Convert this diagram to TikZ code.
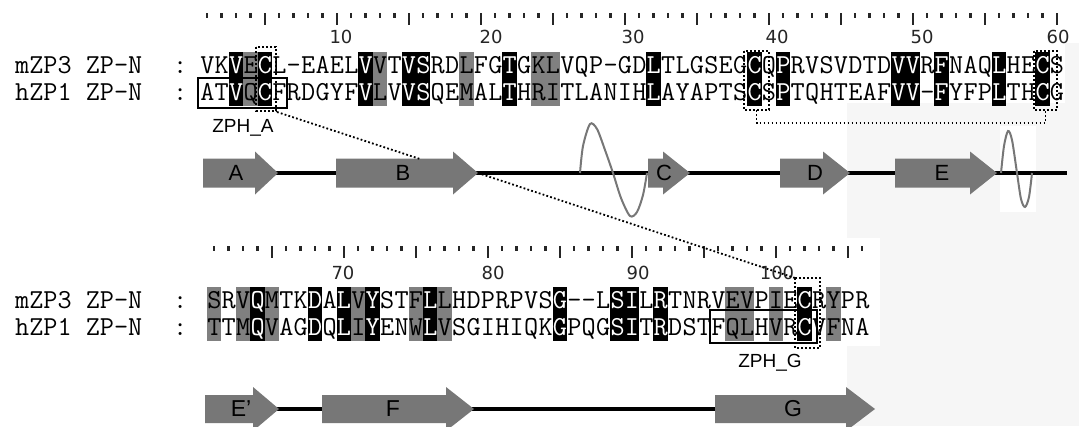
\documentclass[tikz,border=0pt]{standalone}
\usepackage{fontspec}
\setsansfont{Liberation Sans}
\newfontfamily\numfont{DejaVu Sans}
\newcommand\myseqfont{\fontsize{27.43}{30}\selectfont\ttfamily}
\definecolor{arrowgray}{HTML}{777777}
\definecolor{shadegray}{HTML}{808080}
\definecolor{bggray}{HTML}{F6F6F6}
% a residue string: every character in its own 14.4pt cell
\def\seqloop#1{\ifx#1\relax\else\makebox[14.4pt]{#1}\expandafter\seqloop\fi}
\newcommand\seqstr[1]{\seqloop#1\relax}
\begin{document}
\begin{tikzpicture}[x=1pt,y=-1pt,
  seq/.style={font=\myseqfont, inner sep=0pt, anchor=base west},
  seqw/.style={seq, text=white},
  num/.style={font=\numfont\fontsize{18}{20}\selectfont, text=black!85, inner sep=0pt},
  lab/.style={font=\sffamily\fontsize{19}{21}\selectfont, inner sep=0pt},
  alab/.style={font=\sffamily\fontsize{22}{24}\selectfont, inner sep=0pt},
  blab/.style={font=\sffamily\fontsize{23}{25}\selectfont, inner sep=0pt},
  minortick/.style={line width=2.4pt, black!85},
  majortick/.style={line width=1.4pt, black!85},
  dots/.style={line width=1.8pt, dash pattern=on 1.8pt off 2.2pt},
  zbox/.style={line width=2pt},
  backbone/.style={line width=3.2pt},
  helix/.style={line width=2pt, arrowgray},
]
\useasboundingbox (0,0) rectangle (1079,426);
\fill[white] (0,0) rectangle (1079,426);
\fill[bggray] (847,103) rectangle (1079,426);
\fill[bggray] (1065,43) rectangle (1079,103);
\fill[white] (200,238) rectangle (880,346);
\fill[white] (1000,126) rectangle (1036,212);

% ---------- top ruler ----------
\foreach \k in {1,...,60}{
  \pgfmathsetmacro\xx{200+(\k-0.5)*14.4}
  \pgfmathtruncatemacro\r{mod(\k,5)}
  \ifnum\r=0 \draw[majortick] (\xx,13) -- (\xx,25);
  \else \draw[minortick] (\xx,13) -- (\xx,18); \fi
}
\node[num] (n10) at (341,37) {10};
\node[num] (n20) at (491,37) {20};
\node[num] (n30) at (633,37) {30};
\node[num] (n40) at (777,37) {40};
\node[num] (n50) at (922,37) {50};
\node[num] (n60) at (1058,37) {60};

% ---------- top shading ----------
\foreach \c in {3,5,12,15,16,22,32,39,41,49,50,52,56,59}
  \fill[black] ({200+(\c-1)*14.4},52) rectangle ({200+\c*14.4},106);
\foreach \c in {4,13,19,24,25}
  \fill[shadegray] ({200+(\c-1)*14.4},52) rectangle ({200+\c*14.4},106);

% ---------- top sequences ----------
\node[seq] (l1) at (15,73) {mZP3 ZP-N\makebox[45pt][r]{:}};
\node[seq] (l2) at (15,100) {hZP1 ZP-N\makebox[45pt][r]{:}};
\node[seq] (s1) at (200,73) {\seqstr{VKVECL-EAELVVTVSRDLFGTGKLVQP-GDLTLGSEGCQPRVSVDTDVVRFNAQLHECS}};
\node[seq] (s2) at (200,100) {\seqstr{ATVQCFRDGYFVLVVSQEMALTHRITLANIHLAYAPTSCSPTQHTEAFVV-FYFPLTHCG}};
\foreach \c/\a in {3/V,5/C,12/V,15/V,16/S,22/T,32/L,39/C,41/P,49/V,50/V,52/F,56/L,59/C}{
  \node[seqw] (ta\c) at ({200+(\c-1)*14.4},73) {\makebox[14.4pt]{\a}};
  \node[seqw] (tb\c) at ({200+(\c-1)*14.4},100) {\makebox[14.4pt]{\a}};
}

% ---------- top boxes ----------
\draw[zbox] (198,78) rectangle (287,108);
\node[lab] (zpha) at (243,128) {ZPH\_A};
\draw[dots] (256,47) rectangle (276,111);
\draw[dots] (744,51) rectangle (769,110);
\draw[dots] (1034,51) rectangle (1057,110);
\draw[dots] (756.5,110) -- (756.5,123) -- (1045.5,123) -- (1045.5,110);

% ---------- top secondary structure ----------
\draw[backbone] (270,173) -- (1067,173);
\foreach \n/\a/\h/\t/\lx in {A/203/255/278/236, B/336/453/478/403, C/648/663/690/664, D/780/823/850/815, E/895/970/997/942}{
  \fill[arrowgray] (\a,158.5) -- (\h,158.5) -- (\h,151.5) -- (\t,173) -- (\h,194.5) -- (\h,187.5) -- (\a,187.5) -- cycle;
  \node[alab] (ar\n) at (\lx,173) {\n};
}
\draw[helix] plot[smooth] coordinates {(580,173) (583,146) (590,124) (597,129) (605,150) (613,173) (621,198) (630,216) (637,212) (643,195) (647,173)};
\draw[helix] plot[smooth] coordinates {(1001,173) (1004,146) (1008,131) (1012,140) (1017,173) (1021,199) (1025,207) (1029,197) (1032,173)};

% ---------- bottom ruler ----------
\foreach \k in {61,...,106}{
  \pgfmathsetmacro\xx{207+(\k-60.5)*14.4}
  \pgfmathtruncatemacro\r{mod(\k,5)}
  \ifnum\r=0 \draw[majortick] (\xx,246) -- (\xx,258);
  \else \draw[minortick] (\xx,246) -- (\xx,251); \fi
}
\node[num] (n70) at (343,273) {70};
\node[num] (n80) at (493,273) {80};
\node[num] (n90) at (638,273) {90};
\node[num] (n100) at (777,273) {100};

% ---------- bottom shading ----------
\foreach \c in {64,68,70,72,76,85,89,90,92,102}
  \fill[black] ({207+(\c-61)*14.4},287) rectangle ({207+(\c-60)*14.4},341);
\foreach \c in {61,63,65,71,75,77,97,98,100,104}
  \fill[shadegray] ({207+(\c-61)*14.4},287) rectangle ({207+(\c-60)*14.4},341);

% ---------- bottom sequences ----------
\node[seq] (l3) at (15,308) {mZP3 ZP-N\makebox[45pt][r]{:}};
\node[seq] (l4) at (15,335) {hZP1 ZP-N\makebox[45pt][r]{:}};
\node[seq] (s3) at (207,308) {\seqstr{SRVQMTKDALVYSTFLLHDPRPVSG--LSILRTNRVEVPIECRYPR}};
\node[seq] (s4) at (207,335) {\seqstr{TTMQVAGDQLIYENWLVSGIHIQKGPQGSITRDSTFQLHVRCVFNA}};
\foreach \c/\a/\b in {64/Q/Q,68/D/D,70/L/L,72/Y/Y,76/L/L,85/G/G,89/S/S,90/I/I,92/R/R,102/C/C}{
  \node[seqw] (ba\c) at ({207+(\c-61)*14.4},308) {\makebox[14.4pt]{\a}};
  \node[seqw] (bb\c) at ({207+(\c-61)*14.4},335) {\makebox[14.4pt]{\b}};
}
\draw[zbox] (710,310) rectangle (817,343);
\node[lab] (zphg) at (770,363) {ZPH\_G};
\draw[dots] (795,278) rectangle (820,348);

% ---------- bottom secondary structure ----------
\draw[backbone] (270,409) -- (720,409);
\foreach \n/\a/\h/\t in {Ep/205/253/279, F/322/446/474, G/715/846/875}{
  \fill[arrowgray] (\a,395) -- (\h,395) -- (\h,387) -- (\t,409) -- (\h,431) -- (\h,423) -- (\a,423) -- cycle;
}
\node[blab] (arEp) at (241,409) {E'};
\node[blab] (arF) at (393,409) {F};
\node[blab] (arG) at (793,409) {G};

% ---------- dotted connectors ----------
\coordinate (zA) at (277,112);
\coordinate (Btop) at (420,159);
\coordinate (Btip) at (478,173);
\coordinate (zG) at (795,278);
\draw[dots] (zA) -- (Btop);
\draw[dots] (Btip) -- (zG);
\end{tikzpicture}
\end{document}
